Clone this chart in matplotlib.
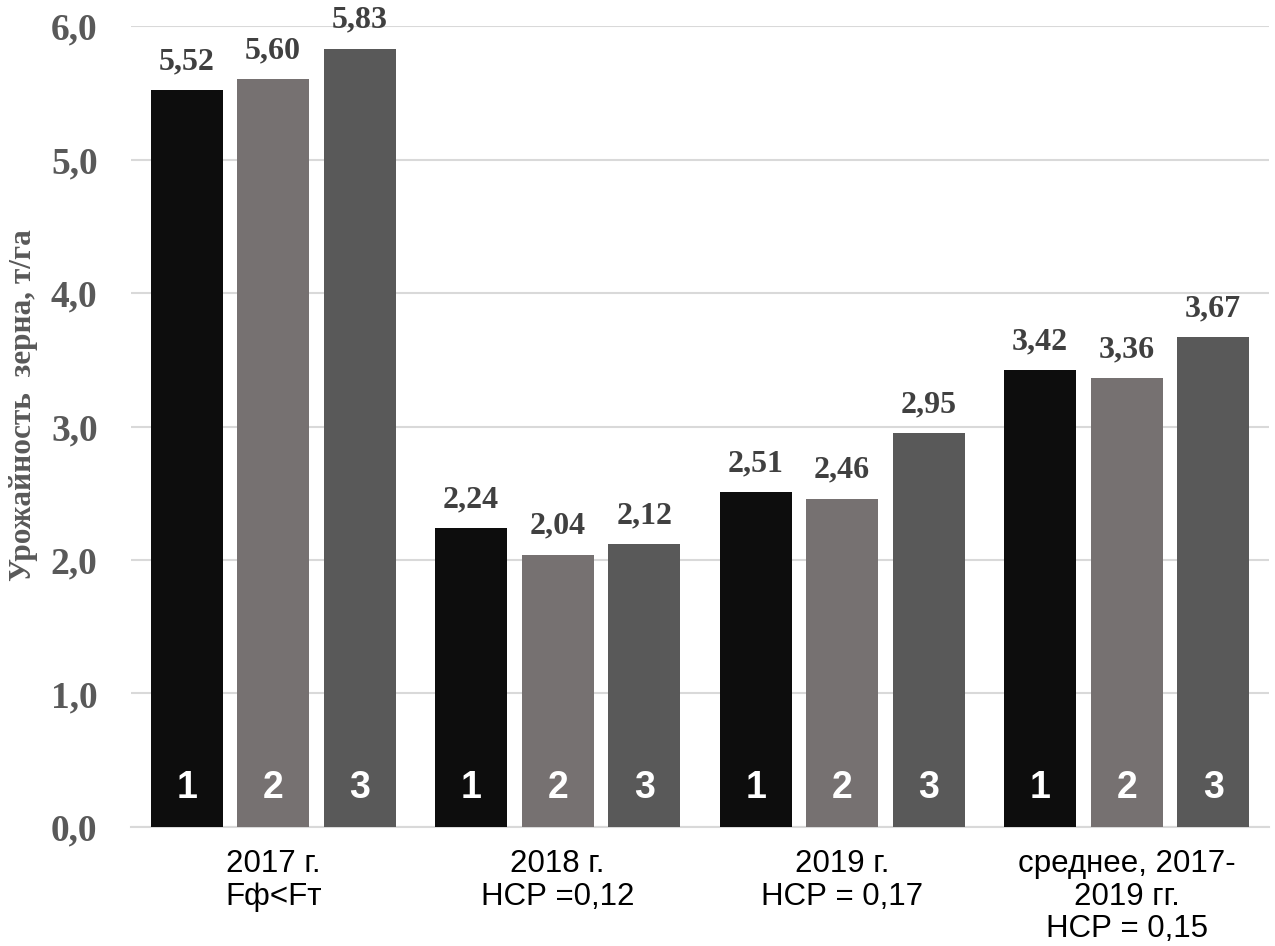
import matplotlib.pyplot as plt
import numpy as np

# Урожайность по вариантам 1-3, т/га
groups = ["2017 г.\nFф<Fт", "2018 г.\nНСР =0,12", "2019 г.\nНСР = 0,17",
          "среднее, 2017-\n2019 гг.\nНСР = 0,15"]
var1 = [5.52, 2.24, 2.51, 3.42]
var2 = [5.60, 2.04, 2.46, 3.36]
var3 = [5.83, 2.12, 2.95, 3.67]
var_names = ["1", "2", "3"]
colors = ["#0d0d0d", "#767171", "#595959"]

fig = plt.figure(figsize=(12.75, 9.46), dpi=100)
ax = fig.add_axes([0.1027, 0.1258, 0.8925, 0.8467])

x = np.arange(len(groups))
step = 0.304
width = 0.254

for i, vals in enumerate([var1, var2, var3]):
    pos = x + (i - 1) * step
    bars = ax.bar(pos, vals, width, color=colors[i], zorder=3)
    for b, v in zip(bars, vals):
        ax.annotate(f"{v:.2f}".replace(".", ","),
                    (b.get_x() + b.get_width() / 2, v),
                    xytext=(0, 10), textcoords="offset points",
                    ha="center", va="bottom", fontsize=23, fontweight="bold",
                    family="Liberation Serif", color="#404040",
                    annotation_clip=False)
        ax.text(b.get_x() + b.get_width() / 2, 0.29, var_names[i],
                ha="center", va="center", fontsize=27, fontweight="bold",
                family="Liberation Sans", color="white", zorder=4)

ax.set_xlim(-0.5, 3.5)
ax.set_ylim(0, 6)
ax.set_yticks(np.arange(0, 6.1, 1.0))
ax.set_yticklabels([f"{t:.1f}".replace(".", ",") for t in np.arange(0, 6.1, 1.0)],
                   fontsize=27, fontweight="bold", family="Liberation Serif",
                   color="#595959")
ax.set_xticks(x)
ax.set_xticklabels(groups, fontsize=22.5, family="Liberation Sans", color="black",
                   linespacing=1.1, va="top")
ax.tick_params(axis="both", length=0)
ax.tick_params(axis="x", pad=16)
ax.tick_params(axis="y", pad=24)

ax.grid(axis="y", color="#d9d9d9", linewidth=1.5, zorder=0)
for s in ["top", "right", "left"]:
    ax.spines[s].set_visible(False)
ax.spines["bottom"].set_color("#d9d9d9")
ax.spines["bottom"].set_linewidth(1.5)

ax.set_ylabel("Урожайность  зерна, т/га", fontsize=22.5, fontweight="bold",
              family="Liberation Serif", color="#595959")
ax.yaxis.set_label_coords(-0.082, 0.527)

fig.savefig("out.png", dpi=100)
